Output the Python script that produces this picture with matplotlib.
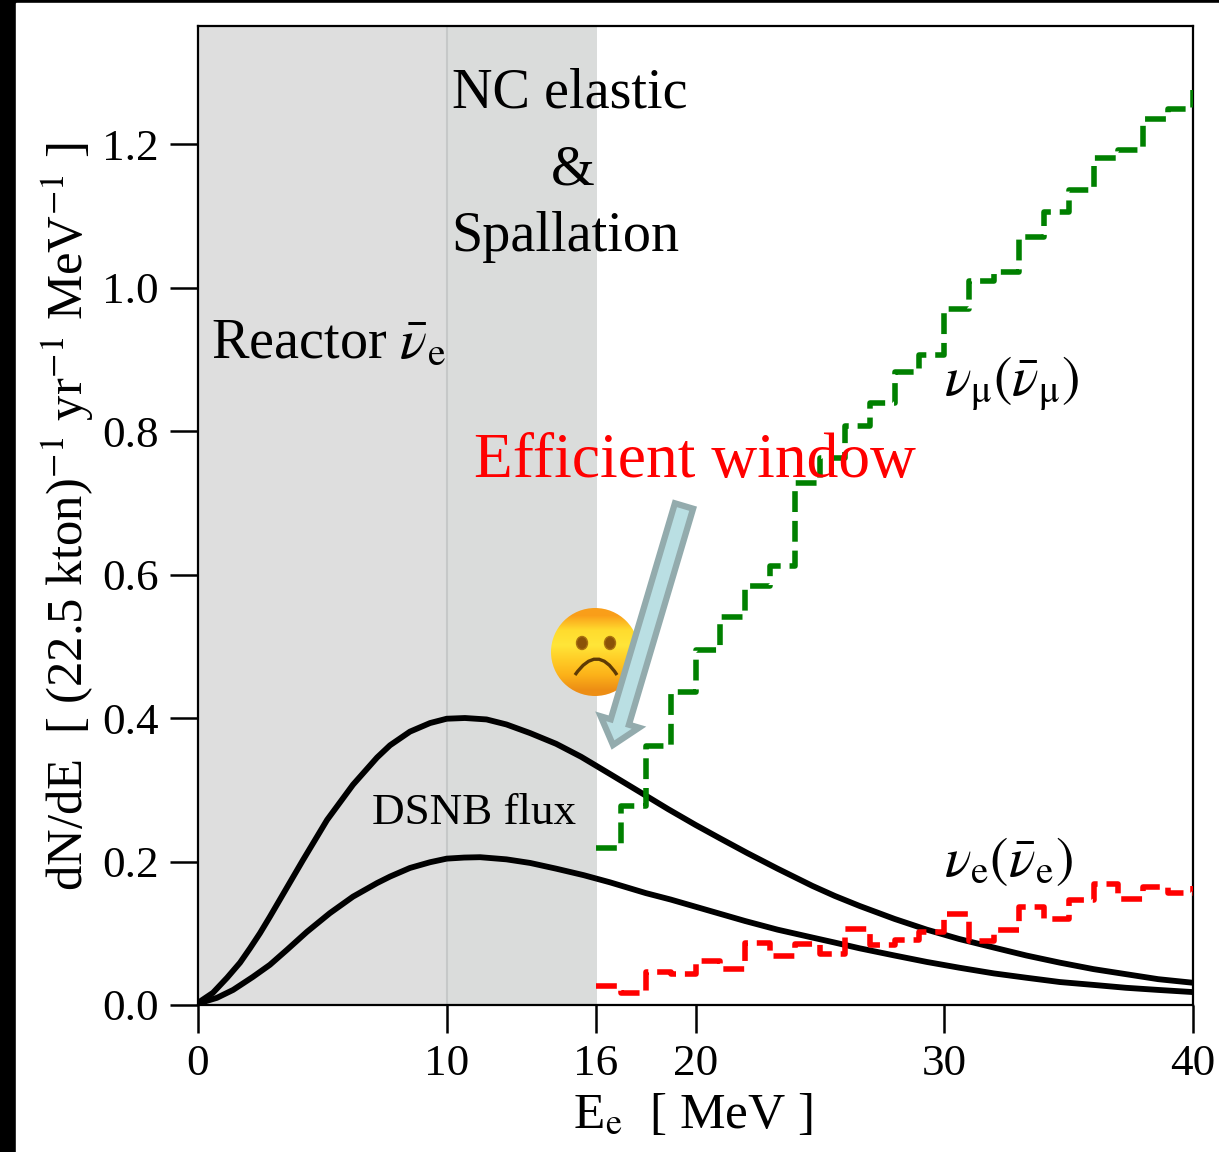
import matplotlib
matplotlib.use("Agg")
import matplotlib.pyplot as plt
import numpy as np
from matplotlib.patches import Circle, Ellipse, FancyArrow, PathPatch, Rectangle
from matplotlib.path import Path
from matplotlib.transforms import IdentityTransform

plt.rcParams["font.family"] = ["Liberation Serif", "DejaVu Serif"]
plt.rcParams["mathtext.fontset"] = "stix"
plt.rcParams["mathtext.default"] = "rm"

W, H = 1219, 1152

# DSNB flux curves
upper_e = [0, 0.6, 1.17, 1.69, 2.09, 2.49, 2.89, 3.58, 4.22, 5.19, 6.23, 7.2, 7.72, 8.52, 9.33, 10, 10.73, 11.6, 12.4,
           13.35, 14.4, 15.4, 16.56, 17.9, 18.9, 20, 21, 22.07, 23.3, 24.7, 25.6, 26.6, 28, 29.3, 30.6, 32, 33.3,
           34.65, 36, 37.3, 38.6, 40]
upper_flux = [0.003, 0.017, 0.038, 0.059, 0.079, 0.100, 0.123, 0.164, 0.202, 0.258, 0.307, 0.345, 0.362, 0.381, 0.393,
              0.399, 0.400, 0.398, 0.391, 0.379, 0.364, 0.346, 0.322, 0.294, 0.273, 0.251, 0.232, 0.212, 0.190, 0.166,
              0.152, 0.138, 0.120, 0.105, 0.092, 0.080, 0.069, 0.059, 0.050, 0.043, 0.036, 0.031]
lower_e = [0, 0.76, 1.41, 2.2, 2.89, 3.58, 4.38, 5.3, 6.23, 7.2, 7.72, 8.52, 9.33, 10, 10.7, 11.34, 12.4, 13.35, 14.4,
           15.5, 16.56, 18, 19, 20, 21, 22, 23.3, 24.7, 25.6, 26.6, 28, 29.3, 30.6, 32, 33.3, 34.65, 36, 37.3, 38.6,
           40]
lower_flux = [0.002, 0.010, 0.021, 0.039, 0.056, 0.077, 0.102, 0.128, 0.151, 0.170, 0.179, 0.191, 0.199, 0.204, 0.2055,
              0.206, 0.203, 0.198, 0.190, 0.181, 0.171, 0.156, 0.147, 0.137, 0.127, 0.117, 0.105, 0.094, 0.087, 0.079,
              0.069, 0.060, 0.052, 0.044, 0.038, 0.032, 0.028, 0.024, 0.021, 0.018]

# atmospheric backgrounds per 1 MeV bin
bin_edges = list(range(16, 41))
numu_rate = [0.219, 0.277, 0.361, 0.436, 0.495, 0.541, 0.584, 0.612, 0.728, 0.762, 0.807, 0.839, 0.882, 0.906, 0.970,
             1.009, 1.022, 1.070, 1.105, 1.136, 1.180, 1.192, 1.235, 1.249, 1.275]
nue_rate = [0.027, 0.017, 0.046, 0.043, 0.061, 0.050, 0.086, 0.068, 0.085, 0.071, 0.106, 0.084, 0.091, 0.102, 0.127,
            0.089, 0.105, 0.137, 0.120, 0.146, 0.169, 0.148, 0.164, 0.156, 0.166]

x_ticks = [0, 10, 16, 20, 30, 40]
y_ticks = [0.0, 0.2, 0.4, 0.6, 0.8, 1.0, 1.2]

fig = plt.figure(figsize=(W / 100, H / 100), dpi=100, facecolor="black")
fig.add_artist(Rectangle((16 / W, 0), 1 - 16 / W, 1 - 3 / H, transform=fig.transFigure, color="white", zorder=-5))
ax = fig.add_axes([198 / W, (H - 1005) / H, 995 / W, 979 / H])
ax.patch.set_alpha(0)

ax.axvspan(0, 10, color="#dedede", lw=0, zorder=0)
ax.axvspan(10, 16.05, color="#dadcdb", lw=0, zorder=0)
ax.axvline(10, color="#c6c8c8", lw=1.5, zorder=0.5)

ax.plot(upper_e, upper_flux, color="black", lw=4.2, zorder=3)
ax.plot(lower_e, lower_flux, color="black", lw=4.2, zorder=3)
ax.plot(bin_edges, numu_rate, drawstyle="steps-post", color="green", lw=4.0, dashes=(3.75, 1.6), zorder=4)
ax.plot(bin_edges, nue_rate, drawstyle="steps-post", color="red", lw=4.0, dashes=(3.75, 1.6), zorder=4)

ax.set_xlim(0, 40)
ax.set_ylim(0, 1.3645)
ax.set_xticks(x_ticks)
ax.set_yticks(y_ticks)
ax.set_yticklabels([f"{v:.1f}" for v in y_ticks])
ax.tick_params(axis="both", direction="out", length=20, width=1.8, labelsize=32.5, pad=8)
for s in ax.spines.values():
    s.set_linewidth(1.6)

fig.text(693 / W, (H - 1116) / H, r"E$_{\mathrm{e}}$  [ MeV ]", ha="center", va="center", fontsize=37)
fig.text(67 / W, (H - 517) / H, r"dN/dE  [ (22.5 kton)$^{-1}$ yr$^{-1}$ MeV$^{-1}$ ]", rotation=90,
         ha="center", va="center", fontsize=36.5)

ax.text(10.2, 1.27, "NC elastic", fontsize=40.5, va="center")
ax.text(15.07, 1.163, "&", fontsize=40.5, va="center", ha="center")
ax.text(10.2, 1.07, "Spallation", fontsize=40.5, va="center")
ax.text(0.52, 0.922, r"Reactor $\bar{\mathit{\nu}}_{\mathrm{e}}$", fontsize=40.5, va="center")
ax.text(11.1, 0.757, "Efficient window", fontsize=45.7, color="red", va="center", zorder=5)
ax.text(7, 0.268, "DSNB flux", fontsize=32.5, va="center")
ax.text(30, 0.865, r"$\mathit{\nu}_{\mathrm{\mu}}(\bar{\mathit{\nu}}_{\mathrm{\mu}})$", fontsize=40, va="center")
ax.text(30, 0.2, r"$\mathit{\nu}_{\mathrm{e}}(\bar{\mathit{\nu}}_{\mathrm{e}})$", fontsize=40, va="center")

# sad face, pixel coordinates
px = IdentityTransform()
face = np.array([[[0.98, 0.62, 0.10]], [[1.0, 0.86, 0.18]], [[1.0, 0.90, 0.22]], [[1.0, 0.80, 0.15]],
                 [[0.99, 0.70, 0.10]], [[0.93, 0.56, 0.08]]])
im = ax.imshow(face, extent=[(551 - 198) / 24.875, (639 - 198) / 24.875, (1005 - 697) / 717.5, (1005 - 608) / 717.5],
               aspect="auto", interpolation="bilinear", zorder=5)
im.set_clip_path(Circle((595, H - 652), 44, transform=px))
ax.set_xlim(0, 40)
ax.set_ylim(0, 1.3645)
ax.add_patch(Ellipse((582, H - 643), 11, 13, fc="#8a5208", ec="#a8700f", lw=1, transform=px, zorder=6))
ax.add_patch(Ellipse((610, H - 643), 11, 13, fc="#8a5208", ec="#a8700f", lw=1, transform=px, zorder=6))
mouth = Path([(575, H - 675), (597, H - 643), (617, H - 675)], [Path.MOVETO, Path.CURVE3, Path.CURVE3])
ax.add_patch(PathPatch(mouth, fc="none", ec="#5e3a05", lw=2.4, transform=px, zorder=6))

arrow = FancyArrow(684, H - 506, 613 - 684, (H - 745) - (H - 506), width=19, head_width=40, head_length=24,
                   length_includes_head=True, fc="#badfe3", ec="#93abad", lw=4.5, transform=px, zorder=7,
                   joinstyle="miter")
ax.add_patch(arrow)

fig.savefig("out.png", dpi=100)
